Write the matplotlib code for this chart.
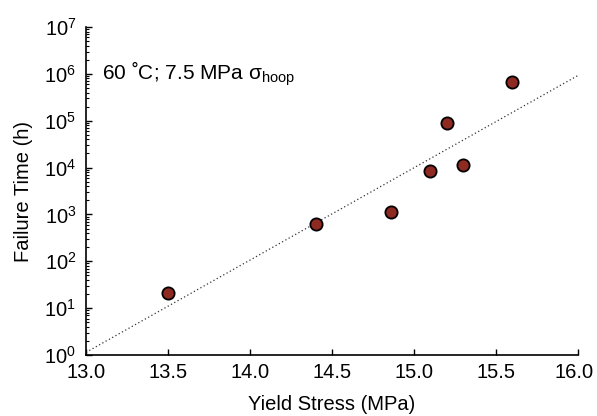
import numpy as np
import matplotlib
matplotlib.use("Agg")
import matplotlib.pyplot as plt
import matplotlib.transforms as mtransforms
from matplotlib.ticker import LogLocator, FixedLocator

plt.rcParams['font.family'] = ['Liberation Sans', 'DejaVu Sans']
plt.rcParams['mathtext.fontset'] = 'custom'
plt.rcParams['mathtext.rm'] = 'Liberation Sans'
plt.rcParams['mathtext.it'] = 'Liberation Sans:italic'
plt.rcParams['mathtext.bf'] = 'Liberation Sans:bold'

# Yield stress (MPa) and failure time (h)
yield_stress = [13.5, 14.4, 14.86, 15.1, 15.2, 15.3, 15.6]
failure_time = [21, 610, 1150, 8300, 91000, 11400, 660000]
x_ticks = [13.0, 13.5, 14.0, 14.5, 15.0, 15.5, 16.0]

fig = plt.figure(figsize=(5.97, 4.16), dpi=100)
ax = fig.add_axes([86/597, (416-355)/416, (578-86)/597, (355-27)/416])

# log-linear least-squares trend
slope, intercept = np.polyfit(yield_stress, np.log10(failure_time), 1)
xf = np.array([13.0, 16.0])
ax.plot(xf, 10 ** (intercept + slope * xf), linestyle=(0, (1, 2)), color='#333333', lw=0.9, zorder=2)

ax.plot(yield_stress, failure_time, 'o', ms=8.8, mfc='#8f2a22', mec='black', mew=1.3, zorder=3)

ax.set_yscale('log')
ax.set_xlim(13.0, 16.0)
ax.set_ylim(1, 1e7)
ax.xaxis.set_major_locator(FixedLocator(x_ticks))
ax.set_xticklabels([f"{v:.1f}" for v in x_ticks])
ax.yaxis.set_major_locator(LogLocator(base=10, numticks=20))
ax.yaxis.set_minor_locator(LogLocator(base=10, subs=np.arange(2, 10), numticks=20))

for s in ['top', 'right']:
    ax.spines[s].set_visible(False)
for s in ['left', 'bottom']:
    ax.spines[s].set_linewidth(1.2)

ax.tick_params(axis='both', which='major', direction='in', length=4, width=1.0, labelsize=14.5)
ax.tick_params(axis='x', which='major', pad=6)
ax.tick_params(axis='y', which='major', pad=7)
ax.tick_params(axis='y', which='minor', direction='in', length=2, width=0.8)
ax.tick_params(axis='x', which='minor', bottom=False)

# nudge the last x label so it stays inside the canvas
last = ax.get_xticklabels()[-1]
last.set_transform(last.get_transform() + mtransforms.ScaledTranslation(-4/100, 0, fig.dpi_scale_trans))

ax.set_xlabel('Yield Stress (MPa)', fontsize=14.5, labelpad=9)
ax.set_ylabel('Failure Time (h)', fontsize=14.5, labelpad=8)

ax.text((102-86)/(578-86), (355-80)/(355-27), '60 ˚C; 7.5 MPa σ$_{\\mathrm{hoop}}$',
        fontsize=15, transform=ax.transAxes, ha='left', va='baseline')

fig.savefig('out.png', dpi=100)
